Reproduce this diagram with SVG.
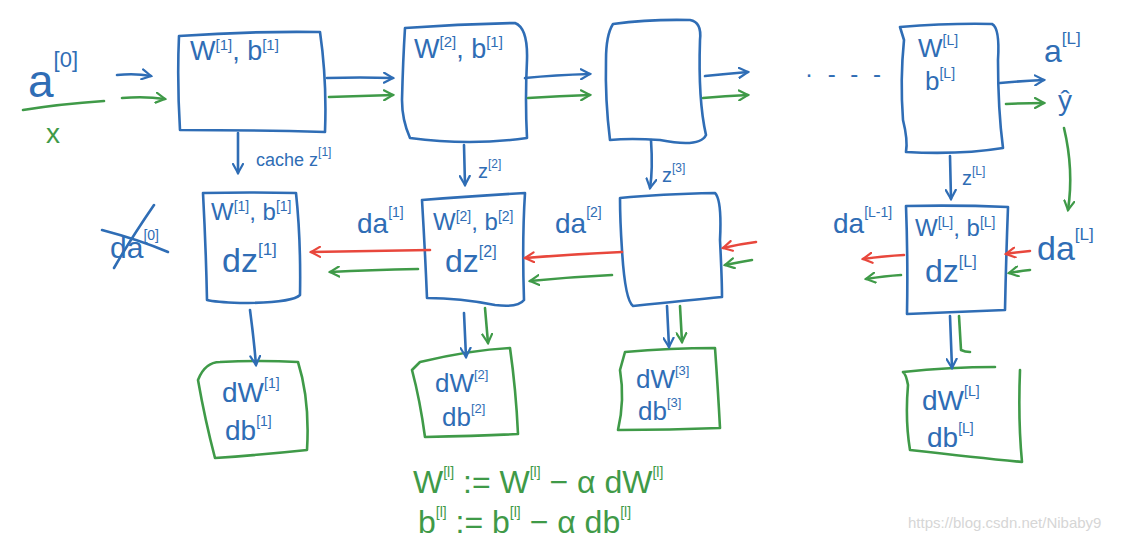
<svg xmlns="http://www.w3.org/2000/svg" width="1121" height="541" viewBox="0 0 1121 541">
<defs>
<style>
.b{fill:none;stroke:#2f6db5;stroke-width:2.6;stroke-linecap:round;stroke-linejoin:round}
.g{fill:none;stroke:#3f9a48;stroke-width:2.6;stroke-linecap:round;stroke-linejoin:round}
.r{fill:none;stroke:#e8473c;stroke-width:2.6;stroke-linecap:round;stroke-linejoin:round}
.tb{fill:#2f6db5;font-family:"Liberation Sans",sans-serif}
.tg{fill:#3f9a48;font-family:"Liberation Sans",sans-serif}
.wm{fill:#d6d6d6;font-family:"Liberation Sans",sans-serif;font-size:15px}
</style>
<marker id="mb" viewBox="0 0 12 12" refX="10" refY="6" markerWidth="12" markerHeight="12" markerUnits="userSpaceOnUse" orient="auto"><path d="M1,1 L10,6 L1,11" fill="none" stroke="#2f6db5" stroke-width="2.2" stroke-linecap="round"/></marker>
<marker id="mg" viewBox="0 0 12 12" refX="10" refY="6" markerWidth="12" markerHeight="12" markerUnits="userSpaceOnUse" orient="auto"><path d="M1,1 L10,6 L1,11" fill="none" stroke="#3f9a48" stroke-width="2.2" stroke-linecap="round"/></marker>
<marker id="mr" viewBox="0 0 12 12" refX="10" refY="6" markerWidth="12" markerHeight="12" markerUnits="userSpaceOnUse" orient="auto"><path d="M1,1 L10,6 L1,11" fill="none" stroke="#e8473c" stroke-width="2.2" stroke-linecap="round"/></marker>
</defs>
<rect width="1121" height="541" fill="#ffffff"/>

<g id="input">
<text class="tb" x="28" y="97" font-size="46">a<tspan dy="-30" font-size="22">[0]</tspan></text>
<path class="g" d="M23,110 Q60,104 104,101"/>
<text class="tg" x="46" y="143" font-size="28">x</text>
</g>

<g id="fwd1">
<path class="b" d="M179,36 Q250,31 320,32 Q327,80 325,132 Q250,130 180,130 Q177,80 179,36 Z"/>
<text class="tb" x="190" y="60" font-size="27">W<tspan dy="-10" font-size="15">[1]</tspan><tspan dy="10">, b</tspan><tspan dy="-10" font-size="15">[1]</tspan></text>
</g>
<g id="fwd2">
<path class="b" d="M405,28 Q460,24 515,23 Q528,28 527,60 Q525,100 527,138 Q470,146 410,138 Q402,120 402,100 Q403,60 405,28 Z"/>
<text class="tb" x="414" y="58" font-size="27">W<tspan dy="-11" font-size="15">[2]</tspan><tspan dy="11">, b</tspan><tspan dy="-11" font-size="15">[1]</tspan></text>
</g>
<g id="fwd3">
<path class="b" d="M613,24 Q650,19 690,20 Q702,22 700,40 Q698,100 706,135 Q700,148 660,140 Q630,138 610,140 Q605,100 606,60 Q606,35 613,24 Z"/>
</g>
<g id="fwdL">
<path class="b" d="M900,27 Q950,23 992,24 Q1000,28 998,60 Q998,110 1003,148 Q960,155 906,152 Q908,140 903,120 Q900,80 904,40 Z"/>
<text class="tb" x="918" y="57" font-size="26">W<tspan dy="-12" font-size="14">[L]</tspan></text>
<text class="tb" x="925" y="90" font-size="26">b<tspan dy="-12" font-size="14">[L]</tspan></text>
</g>

<g id="output">
<text class="tb" x="1044" y="62" font-size="32">a<tspan dy="-18" font-size="17">[L]</tspan></text>
<text class="tb" x="1058" y="110" font-size="28">ŷ</text>
</g>

<g id="dots">
<text class="tb" x="805" y="82" font-size="24" letter-spacing="4">· - - -</text>
</g>

<g id="da0">
<text class="tb" x="110" y="258" font-size="30">da<tspan dy="-18" font-size="14">[0]</tspan></text>
<path class="b" d="M102,230 Q140,240 168,252"/>
<path class="b" d="M154,205 Q130,240 114,268"/>
</g>
<g id="bwd1">
<path class="b" d="M203,193 Q250,192 296,193 Q301,240 300,295 Q292,303 240,303 Q215,302 207,300 Q206,250 203,193 Z"/>
<text class="tb" x="211" y="220" font-size="24">W<tspan dy="-9" font-size="14">[1]</tspan><tspan dy="9">, b</tspan><tspan dy="-9" font-size="14">[1]</tspan></text>
<text class="tb" x="222" y="272" font-size="34">dz<tspan dy="-17" font-size="17">[1]</tspan></text>
</g>
<g id="bwd2">
<path class="b" d="M422,200 Q470,196 525,193 Q522,240 524,300 Q518,308 495,305 Q460,298 427,298 Q425,250 422,200 Z"/>
<text class="tb" x="433" y="230" font-size="24">W<tspan dy="-9" font-size="14">[2]</tspan><tspan dy="9">, b</tspan><tspan dy="-9" font-size="14">[2]</tspan></text>
<text class="tb" x="445" y="272" font-size="32">dz<tspan dy="-15" font-size="16">[2]</tspan></text>
</g>
<g id="bwd3">
<path class="b" d="M620,198 Q660,194 715,193 Q722,200 720,240 Q722,280 722,297 Q690,300 633,306 Q625,300 622,250 Q620,220 620,198 Z"/>
</g>
<g id="bwdL">
<path class="b" d="M906,206 Q960,205 1008,207 Q1006,260 1005,310 Q960,312 907,314 Q908,260 906,206 Z"/>
<text class="tb" x="915" y="236" font-size="24">W<tspan dy="-9" font-size="14">[L]</tspan><tspan dy="9">, b</tspan><tspan dy="-9" font-size="14">[L]</tspan></text>
<text class="tb" x="925" y="282" font-size="32">dz<tspan dy="-15" font-size="16">[L]</tspan></text>
</g>

<g id="labels">
<text class="tb" x="357" y="233" font-size="28">da<tspan dy="-16" font-size="14">[1]</tspan></text>
<text class="tb" x="555" y="233" font-size="28">da<tspan dy="-16" font-size="14">[2]</tspan></text>
<text class="tb" x="833" y="233" font-size="28">da<tspan dy="-16" font-size="14">[L-1]</tspan></text>
<text class="tb" x="1037" y="260" font-size="34">da<tspan dy="-20" font-size="17">[L]</tspan></text>
<text class="tb" x="256" y="166" font-size="18">cache z<tspan dy="-10" font-size="12">[1]</tspan></text>
<text class="tb" x="478" y="178" font-size="20">z<tspan dy="-10" font-size="12">[2]</tspan></text>
<text class="tb" x="662" y="182" font-size="20">z<tspan dy="-10" font-size="12">[3]</tspan></text>
<text class="tb" x="962" y="185" font-size="20">z<tspan dy="-10" font-size="12">[L]</tspan></text>
</g>

<g id="grad1">
<path class="g" d="M220,362 Q260,360 298,362 Q310,400 307,450 Q260,455 215,458 Q205,420 198,380 Q205,362 220,362 Z"/>
<text class="tb" x="222" y="402" font-size="28">dW<tspan dy="-14" font-size="14">[1]</tspan></text>
<text class="tb" x="225" y="440" font-size="28">db<tspan dy="-14" font-size="14">[1]</tspan></text>
</g>
<g id="grad2">
<path class="g" d="M420,362 Q470,350 510,348 Q516,390 518,434 Q480,436 425,437 Q420,400 412,370 Z"/>
<text class="tb" x="435" y="392" font-size="26">dW<tspan dy="-13" font-size="13">[2]</tspan></text>
<text class="tb" x="442" y="426" font-size="26">db<tspan dy="-13" font-size="13">[2]</tspan></text>
</g>
<g id="grad3">
<path class="g" d="M625,352 Q670,348 715,348 Q718,390 720,428 Q670,430 618,430 Q625,400 620,370 Z"/>
<text class="tb" x="636" y="388" font-size="26">dW<tspan dy="-13" font-size="13">[3]</tspan></text>
<text class="tb" x="638" y="420" font-size="26">db<tspan dy="-13" font-size="13">[3]</tspan></text>
</g>
<g id="gradL">
<path class="g" d="M903,372 Q950,367 995,367 M1020,370 Q1018,420 1022,462 Q980,458 910,450 Q905,420 908,385 Q906,374 903,372"/>
<text class="tb" x="922" y="410" font-size="28">dW<tspan dy="-14" font-size="14">[L]</tspan></text>
<text class="tb" x="927" y="447" font-size="28">db<tspan dy="-14" font-size="14">[L]</tspan></text>
</g>

<g id="update">
<text class="tg" x="413" y="493" font-size="32">W<tspan dy="-16" font-size="14">[l]</tspan><tspan dy="16"> := W</tspan><tspan dy="-16" font-size="14">[l]</tspan><tspan dy="16"> − α dW</tspan><tspan dy="-16" font-size="14">[l]</tspan></text>
<text class="tg" x="418" y="533" font-size="32">b<tspan dy="-16" font-size="14">[l]</tspan><tspan dy="16"> := b</tspan><tspan dy="-16" font-size="14">[l]</tspan><tspan dy="16"> − α db</tspan><tspan dy="-16" font-size="14">[l]</tspan></text>
</g>

<g id="connectors">
<path class="b" d="M117,75 Q135,73 151,76" marker-end="url(#mb)"/>
<path class="g" d="M122,98 Q145,96 165,99" marker-end="url(#mg)"/>
<path class="b" d="M327,78 Q360,77 393,78" marker-end="url(#mb)"/>
<path class="g" d="M329,97 Q362,96 393,95" marker-end="url(#mg)"/>
<path class="b" d="M525,78 Q555,75 590,74" marker-end="url(#mb)"/>
<path class="g" d="M528,98 Q560,96 590,95" marker-end="url(#mg)"/>
<path class="b" d="M705,76 Q725,74 748,72" marker-end="url(#mb)"/>
<path class="g" d="M703,98 Q725,96 748,95" marker-end="url(#mg)"/>
<path class="b" d="M1000,83 Q1020,81 1044,80" marker-end="url(#mb)"/>
<path class="g" d="M1006,104 Q1025,103 1044,103" marker-end="url(#mg)"/>
<path class="g" d="M1064,128 Q1074,170 1068,210" marker-end="url(#mg)"/>
<path class="b" d="M238,133 L238,173" marker-end="url(#mb)"/>
<path class="b" d="M464,145 L465,185" marker-end="url(#mb)"/>
<path class="b" d="M651,140 Q653,170 650,188" marker-end="url(#mb)"/>
<path class="b" d="M950,156 L951,199" marker-end="url(#mb)"/>
<path class="r" d="M430,250 Q370,251 311,252" marker-end="url(#mr)"/>
<path class="g" d="M418,269 Q370,270 330,272" marker-end="url(#mg)"/>
<path class="r" d="M622,252 Q575,254 525,258" marker-end="url(#mr)"/>
<path class="g" d="M612,275 Q570,277 530,281" marker-end="url(#mg)"/>
<path class="r" d="M756,242 Q740,244 723,248" marker-end="url(#mr)"/>
<path class="g" d="M752,260 Q740,262 725,265" marker-end="url(#mg)"/>
<path class="r" d="M904,255 Q885,256 863,259" marker-end="url(#mr)"/>
<path class="g" d="M901,275 Q885,276 866,279" marker-end="url(#mg)"/>
<path class="r" d="M1030,251 Q1018,252 1006,254" marker-end="url(#mr)"/>
<path class="g" d="M1030,270 Q1020,271 1009,273" marker-end="url(#mg)"/>
<path class="b" d="M250,310 Q254,340 256,365" marker-end="url(#mb)"/>
<path class="b" d="M464,313 L466,357" marker-end="url(#mb)"/>
<path class="g" d="M485,308 L488,343" marker-end="url(#mg)"/>
<path class="b" d="M667,306 L669,347" marker-end="url(#mb)"/>
<path class="g" d="M680,306 L682,342" marker-end="url(#mg)"/>
<path class="b" d="M950,316 L952,368" marker-end="url(#mb)"/>
<path class="g" d="M959,316 L961,350 Q965,352 970,352"/>
</g>

<text class="wm" x="908" y="528">https://blog.csdn.net/Nibaby9</text>
</svg>
